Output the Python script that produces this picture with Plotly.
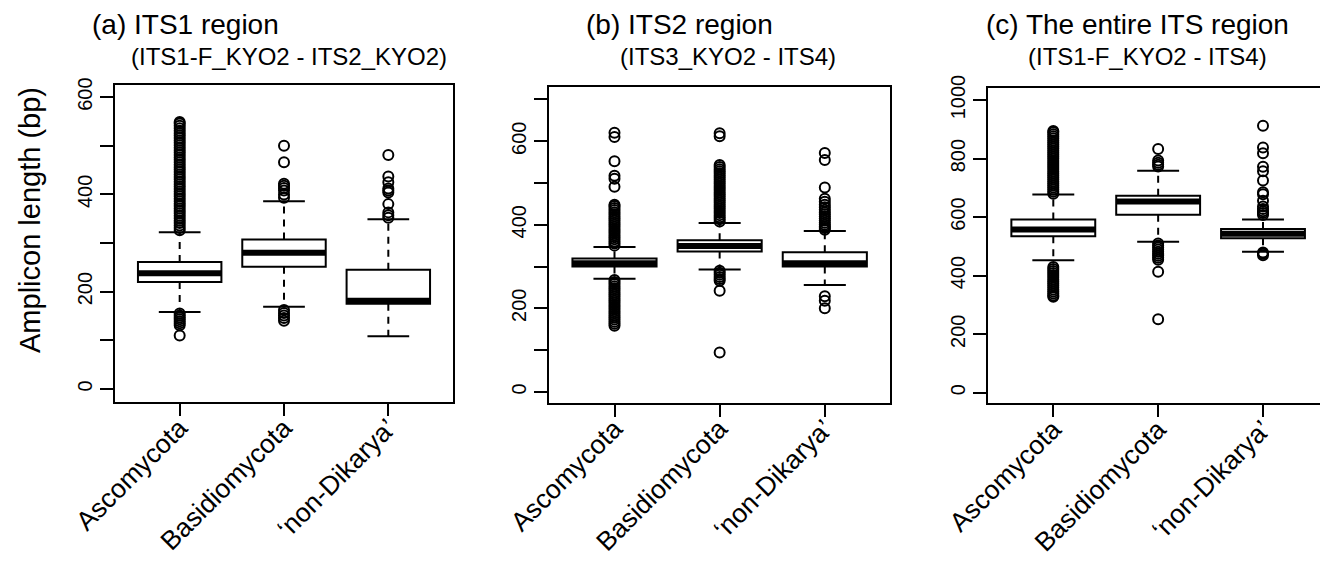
import plotly.graph_objects as go

# page is drawn with an 8px body margin: the figure covers window px 8..1328 x 8..562
OFF = 8
W, H = 1328 - OFF, 562 - OFF
FONT = "Liberation Sans, Arial, Helvetica, sans-serif"


def fx(px):
    return (px - OFF) / W


def fy(py):
    return 1 - (py - OFF) / H


categories = ["Ascomycota", "Basidiomycota", "\u2018non-Dikarya\u2019"]
positions = [1, 2, 3]

# ---- (a) ITS1 region ----
its1_q1 = [220, 251, 175]
its1_median = [238, 280, 181]
its1_q3 = [261, 307, 245]
its1_lower = [158, 169, 108]
its1_upper = [322, 386, 349]
its1_out_asco = [326, 331, 336, 341, 346, 351, 356, 361, 366, 371, 376, 381, 386, 391,
                 396, 401, 406, 411, 416, 421, 426, 431, 436, 441, 446, 451, 456, 461,
                 466, 471, 476, 481, 486, 491, 496, 501, 506, 511, 516, 521, 526, 531,
                 536, 541, 546, 549,
                 155, 151, 147, 143, 139, 135, 131, 110]
its1_out_basidio = [393, 400, 408, 413, 418, 422, 466, 500,
                    162, 156, 151, 146, 140]
its1_out_nondik = [352, 357, 363, 380, 404, 408, 412, 425, 437, 481]

# ---- (b) ITS2 region ----
its2_q1 = [300, 336, 300]
its2_median = [308, 349, 308]
its2_q3 = [319, 363, 334]
its2_lower = [271, 293, 256]
its2_upper = [347, 404, 385]
its2_out_asco = [350, 355, 360, 365, 370, 375, 380, 385, 390, 395, 400, 405, 410, 415,
                 420, 425, 430, 435, 440, 445, 448, 491, 510, 517, 552, 610, 620,
                 268, 263, 258, 253, 248, 243, 238, 233, 228, 223, 218, 213, 208, 203,
                 198, 193, 188, 183, 178, 173, 168, 163, 158]
its2_out_basidio = [408, 413, 418, 423, 428, 433, 438, 443, 448, 453, 458, 463, 468, 473,
                    478, 483, 488, 493, 498, 503, 508, 513, 518, 523, 528, 533, 538, 543,
                    612, 619,
                    290, 285, 280, 275, 270, 266, 242, 94]
its2_out_nondik = [388, 392, 396, 400, 405, 410, 415, 420, 425, 430, 436, 442, 448, 455,
                   462, 489, 555, 572, 229, 218, 200]

# ---- (c) The entire ITS region ----
its_q1 = [535, 608, 528]
its_median = [558, 653, 543]
its_q3 = [592, 673, 559]
its_lower = [453, 516, 482]
its_upper = [677, 758, 592]
its_out_asco = [680, 687, 694, 701, 708, 715, 722, 729, 736, 743, 750, 757, 764, 771,
                778, 785, 792, 799, 806, 813, 820, 827, 834, 841, 848, 855, 862, 869,
                876, 883, 890, 894,
                430, 423, 416, 409, 402, 395, 388, 381, 374, 367, 360, 353, 346, 339,
                332, 328]
its_out_basidio = [773, 779, 786, 793, 833,
                   510, 503, 496, 489, 482, 475, 468, 461, 454, 413, 251]
its_out_nondik = [607, 614, 620, 628, 636, 656, 678, 685, 725, 757, 772, 818, 838, 912,
                  470, 475, 479]

# tick labels
ticks_a = [0, 100, 200, 300, 400, 500, 600]
ticktext_a = ["0", "", "200", "", "400", "", "600"]
ticks_b = [0, 100, 200, 300, 400, 500, 600, 700]
ticktext_b = ["0", "", "200", "", "400", "", "600", ""]
ticks_c = [0, 200, 400, 600, 800, 1000]
ticktext_c = ["0", "200", "400", "600", "800", "1000"]

titles = [
    ("(a) ITS1 region", "(ITS1-F_KYO2 - ITS2_KYO2)"),
    ("(b) ITS2 region", "(ITS3_KYO2 - ITS4)"),
    ("(c) The entire ITS region", "(ITS1-F_KYO2 - ITS4)"),
]
ylabel = "Amplicon length (bp)"

panels = [
    dict(q1=its1_q1, med=its1_median, q3=its1_q3, lo=its1_lower, hi=its1_upper,
         outs=[its1_out_asco, its1_out_basidio, its1_out_nondik],
         yrange=[-27, 625], tv=ticks_a, tt=ticktext_a,
         xdom=[fx(115), fx(453)], ydom=[fy(402), fy(85)],
         t1=(185.5, 25), t2=(289, 56)),
    dict(q1=its2_q1, med=its2_median, q3=its2_q3, lo=its2_lower, hi=its2_upper,
         outs=[its2_out_asco, its2_out_basidio, its2_out_nondik],
         yrange=[-26, 729], tv=ticks_b, tt=ticktext_b,
         xdom=[fx(549.3), fx(890)], ydom=[fy(402.7), fy(87.3)],
         t1=(679.5, 25), t2=(727.5, 56)),
    dict(q1=its_q1, med=its_median, q3=its_q3, lo=its_lower, hi=its_upper,
         outs=[its_out_asco, its_out_basidio, its_out_nondik],
         yrange=[-36, 1040], tv=ticks_c, tt=ticktext_c,
         xdom=[fx(988.3), 1.0], ydom=[fy(403.3), fy(88.3)],
         t1=(1137, 25), t2=(1147.5, 56)),
]

BOXW = 0.8
STAPLE = 0.2
fig = go.Figure()
annotations = []
layout_axes = {}

for k, p in enumerate(panels):
    n = "" if k == 0 else str(k + 1)
    xa, ya = "x" + n, "y" + n
    # dashed whiskers with staples
    for i, x in enumerate(positions):
        for a, b in ((p["q3"][i], p["hi"][i]), (p["q1"][i], p["lo"][i])):
            fig.add_trace(go.Scatter(x=[x, x], y=[a, b], mode="lines", xaxis=xa, yaxis=ya,
                                     line=dict(color="black", width=2, dash="7px,6px"),
                                     hoverinfo="skip"))
            fig.add_trace(go.Scatter(x=[x - STAPLE, x + STAPLE], y=[b, b], mode="lines",
                                     xaxis=xa, yaxis=ya,
                                     line=dict(color="black", width=2), hoverinfo="skip"))
    # boxes
    fig.add_trace(go.Box(x=positions, q1=p["q1"], median=p["med"], q3=p["q3"],
                         lowerfence=p["q1"], upperfence=p["q3"], width=BOXW,
                         whiskerwidth=0, boxpoints=False, fillcolor="white",
                         line=dict(color="black", width=2), xaxis=xa, yaxis=ya))
    # thick medians
    for i, x in enumerate(positions):
        fig.add_trace(go.Scatter(x=[x - BOXW / 2, x + BOXW / 2], y=[p["med"][i]] * 2,
                                 mode="lines", xaxis=xa, yaxis=ya,
                                 line=dict(color="black", width=6), hoverinfo="skip"))
    # outliers
    for i, x in enumerate(positions):
        fig.add_trace(go.Scatter(x=[x] * len(p["outs"][i]), y=p["outs"][i], mode="markers",
                                 xaxis=xa, yaxis=ya,
                                 marker=dict(symbol="circle-open", size=10, color="black",
                                             line=dict(width=2, color="black"))))
    xkey = "xaxis" + n
    ykey = "yaxis" + n
    layout_axes[xkey] = dict(domain=p["xdom"], anchor=ya, range=[0.38, 3.62],
                             tickvals=positions, ticktext=categories, tickangle=-45,
                             ticks="outside", ticklen=12, tickwidth=2, tickcolor="black",
                             ticklabelstandoff=-14, ticklabelshift=0,
                             showline=True, mirror=True, linewidth=2, linecolor="black",
                             showgrid=False, zeroline=False, automargin=False,
                             tickfont=dict(family=FONT, size=26.5, color="black"))
    layout_axes[ykey] = dict(domain=p["ydom"], anchor=xa, range=p["yrange"],
                             tickvals=p["tv"], ticktext=p["tt"], tickangle=-90,
                             ticks="outside", ticklen=13, tickwidth=2, tickcolor="black",
                             showline=True, mirror=True, linewidth=2, linecolor="black",
                             showgrid=False, zeroline=False, automargin=False,
                             tickfont=dict(family=FONT, size=20, color="black"))
    t1, t2 = titles[k]
    annotations.append(dict(text=t1, x=fx(p["t1"][0]), y=fy(p["t1"][1]),
                            xref="paper", yref="paper", xanchor="center", yanchor="middle",
                            showarrow=False, font=dict(family=FONT, size=28, color="black")))
    annotations.append(dict(text=t2, x=fx(p["t2"][0]), y=fy(p["t2"][1]),
                            xref="paper", yref="paper", xanchor="center", yanchor="middle",
                            showarrow=False, font=dict(family=FONT, size=24, color="black")))

annotations.append(dict(text=ylabel, x=fx(30), y=fy(220), xref="paper", yref="paper",
                        xanchor="center", yanchor="middle", textangle=-90, showarrow=False,
                        font=dict(family=FONT, size=29, color="black")))

fig.update_layout(width=W, height=H, margin=dict(l=0, r=0, t=0, b=0, pad=0, autoexpand=False),
                  paper_bgcolor="white", plot_bgcolor="white", showlegend=False,
                  annotations=annotations, **layout_axes)

fig.write_html("out.html")
